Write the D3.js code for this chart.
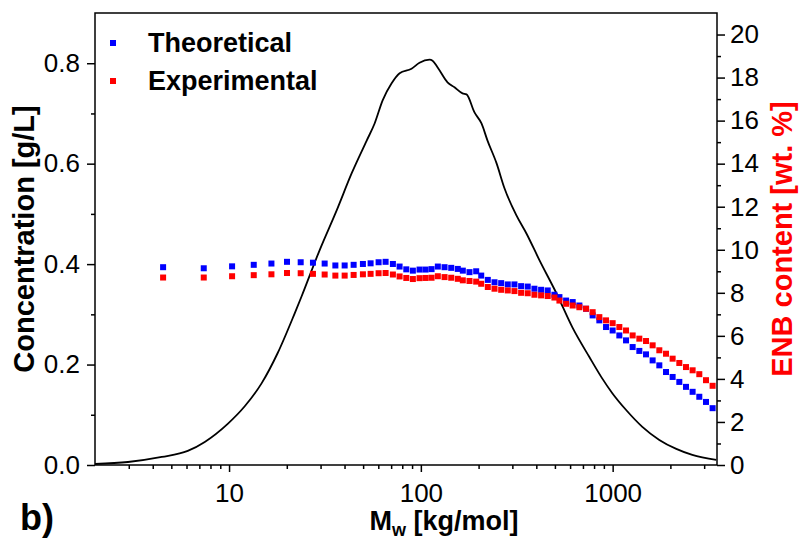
<!DOCTYPE html>
<html>
<head>
<meta charset="utf-8">
<script src="https://cdn.jsdelivr.net/npm/d3@7"></script>
<style>
  body { margin:0; background:#fff; }
  svg { font-family: "Liberation Sans", Arial, sans-serif; }
  .axis path.domain { display:none; }
  .axis line { stroke:#000; stroke-width:1.5; }
  .axis text { font-size:26px; fill:#000; }
</style>
</head>
<body>
<div id="chart"></div>
<script>
// molar mass [kg/mol] of each ENB slice
var sliceMw = [4.53, 7.38, 10.37, 13.45, 16.63, 20.05, 23.63, 27.38, 31.51, 35.83, 40.06, 44.62, 49.88, 54.7, 60.21, 65.49, 71.49, 77.47,
  83.95, 90.86, 98.45, 105.8, 113.7, 122.6, 132.9, 144.0, 155.8, 165.5, 179.3, 194.3, 206.4, 223.4, 242.1, 262.3, 283.9, 307.6, 333.3,
  360.8, 391.0, 423.7, 458.6, 497.0, 527.8, 571.9, 619.0, 670.7, 726.8, 786.6, 852.3, 923.6, 1000, 1083.6, 1174.2, 1271.3, 1377.6,
  1492.8, 1616.1, 1751.3, 1897.7, 2054.5, 2226.3, 2412.4, 2611.7, 2830.1, 3066.7, 3320]
// ENB content [wt. %]
var theoretical = [9.19, 9.14, 9.23, 9.30, 9.36, 9.44, 9.42, 9.40, 9.36, 9.27, 9.27, 9.30, 9.34, 9.37, 9.42, 9.44, 9.34, 9.22,
  9.09, 9.03, 9.08, 9.08, 9.10, 9.22, 9.19, 9.16, 9.11, 9.03, 8.96, 9.00, 8.80, 8.60, 8.49, 8.45, 8.39, 8.39, 8.31,
  8.29, 8.19, 8.14, 8.11, 7.91, 7.80, 7.64, 7.57, 7.41, 7.26, 6.95, 6.72, 6.41, 6.25, 6.02, 5.79, 5.48, 5.30,
  5.14, 4.86, 4.63, 4.32, 4.09, 3.86, 3.63, 3.40, 3.17, 2.93, 2.64]
var experimental = [8.71, 8.71, 8.77, 8.82, 8.86, 8.92, 8.91, 8.88, 8.85, 8.80, 8.80, 8.83, 8.86, 8.88, 8.91, 8.92, 8.85, 8.76,
  8.69, 8.64, 8.68, 8.69, 8.70, 8.77, 8.73, 8.70, 8.65, 8.58, 8.55, 8.52, 8.42, 8.27, 8.19, 8.14, 8.11, 8.08, 8.00,
  7.98, 7.91, 7.88, 7.85, 7.78, 7.64, 7.49, 7.41, 7.33, 7.26, 7.10, 6.87, 6.72, 6.59, 6.41, 6.25, 6.02, 5.87,
  5.76, 5.56, 5.33, 5.17, 4.94, 4.74, 4.55, 4.40, 4.22, 3.94, 3.68]

// molar mass distribution (concentration [g/L])
var distMw = [2.0, 2.97, 4.46, 6.09, 7.47, 9.84, 12.07, 14.8, 17.93, 21.99, 23.9, 29.68, 36.4, 43.6, 52.2, 57.4, 63.2, 70.4, 77.5,
  89.4, 98.4, 111, 115.1, 122.6, 137.7, 149.8, 164.9, 173, 190.4, 207.1, 222.6, 248, 272.9, 315, 355.2, 415.1, 509.1, 616.8,
  756.1, 873.3, 996, 1179, 1428, 1751, 2147, 2602, 3468]
var distConc = [0.002, 0.006, 0.016, 0.028, 0.046, 0.082, 0.117, 0.163, 0.223, 0.302, 0.336, 0.428, 0.507, 0.581, 0.646, 0.680, 0.726, 0.760, 0.780,
  0.789, 0.801, 0.807, 0.805, 0.791, 0.762, 0.752, 0.740, 0.738, 0.702, 0.680, 0.646, 0.601, 0.551, 0.497, 0.461, 0.408, 0.342, 0.274,
  0.215, 0.175, 0.143, 0.109, 0.076, 0.050, 0.032, 0.020, 0.010]

var xMajor = [10, 100, 1000]
var xMinor = [3, 4, 5, 6, 7, 8, 9, 20, 30, 40, 50, 60, 70, 80, 90, 200, 300, 400, 500, 600, 700, 800, 900, 2000, 3000]
var concTicks = [0, 0.2, 0.4, 0.6, 0.8]
var concMinor = [0.1, 0.3, 0.5, 0.7]
var enbTicks = [0, 2, 4, 6, 8, 10, 12, 14, 16, 18, 20]
var enbMinor = [1, 3, 5, 7, 9, 11, 13, 15, 17, 19]

var seriesNames = ["Theoretical", "Experimental"]
var seriesColors = ["#0000ff", "#ff0000"]

var W = 800, H = 542
var margin = {top: 13, right: 83, bottom: 77, left: 95}
var width = W - margin.left - margin.right
var height = H - margin.top - margin.bottom

var svg = d3.select("#chart").append("svg")
    .attr("width", W).attr("height", H)
var g = svg.append("g")
    .attr("transform", "translate(" + margin.left + "," + margin.top + ")")

var x = d3.scaleLog().domain([2, 3500]).range([0, width])
var yL = d3.scaleLinear().domain([0, 0.9]).range([height, 0])
var yR = d3.scaleLinear().domain([0, 21]).range([height, 0])

// axes (major + minor)
g.append("g").attr("class", "axis").attr("transform", "translate(0," + height + ")")
  .call(d3.axisBottom(x).tickValues(xMajor).tickFormat(d3.format("d")).tickSize(7).tickPadding(12))
g.append("g").attr("class", "axis").attr("transform", "translate(0," + height + ")")
  .call(d3.axisBottom(x).tickValues(xMinor).tickFormat("").tickSize(4))

g.append("g").attr("class", "axis")
  .call(d3.axisLeft(yL).tickValues(concTicks).tickFormat(d3.format(".1f")).tickSize(8).tickPadding(7))
g.append("g").attr("class", "axis")
  .call(d3.axisLeft(yL).tickValues(concMinor).tickFormat("").tickSize(4))

g.append("g").attr("class", "axis").attr("transform", "translate(" + width + ",0)")
  .call(d3.axisRight(yR).tickValues(enbTicks).tickFormat(d3.format("d")).tickSize(8).tickPadding(5))
g.append("g").attr("class", "axis").attr("transform", "translate(" + width + ",0)")
  .call(d3.axisRight(yR).tickValues(enbMinor).tickFormat("").tickSize(4))

// frame
g.append("rect")
  .attr("width", width).attr("height", height)
  .attr("fill", "none").attr("stroke", "#000").attr("stroke-width", 1.5)

// distribution curve
var dist = distMw.map((m, i) => ({m: m, c: distConc[i]}))
g.append("path")
  .datum(dist)
  .attr("fill", "none")
  .attr("stroke", "#000")
  .attr("stroke-width", 1.8)
  .attr("d", d3.line().x(d => x(d.m)).y(d => yL(d.c)).curve(d3.curveMonotoneX))

// ENB squares (experimental drawn on top)
var sq = 6
;[theoretical, experimental].forEach((vals, k) => {
  g.append("g").selectAll("rect")
    .data(sliceMw.map((m, i) => ({m: m, v: vals[i]})))
    .enter().append("rect")
    .attr("x", d => x(d.m) - sq / 2)
    .attr("y", d => yR(d.v) - sq / 2)
    .attr("width", sq).attr("height", sq)
    .attr("fill", seriesColors[k])
})

// legend
var leg = g.append("g").attr("transform", "translate(18,30)")
seriesNames.forEach((s, i) => {
  leg.append("rect").attr("x", -3).attr("y", i * 38 - 3).attr("width", 6).attr("height", 6)
    .attr("fill", seriesColors[i])
  leg.append("text").attr("x", 35).attr("y", i * 38 + 9)
    .attr("font-size", 27).attr("font-weight", "bold").text(s)
})

// axis titles
svg.append("text")
  .attr("transform", "translate(34," + (margin.top + yL(0.45)) + ") rotate(-90)")
  .attr("text-anchor", "middle").attr("font-size", 29).attr("font-weight", "bold")
  .text("Concentration [g/L]")

svg.append("text")
  .attr("transform", "translate(792," + (margin.top + yL(0.45)) + ") rotate(-90)")
  .attr("text-anchor", "middle").attr("font-size", 29).attr("font-weight", "bold")
  .attr("fill", "#ff0000")
  .text("ENB content [wt. %]")

var xt = svg.append("text")
  .attr("x", margin.left + width / 2 + 38).attr("y", 530)
  .attr("text-anchor", "middle").attr("font-size", 27).attr("font-weight", "bold")
xt.append("tspan").text("M")
xt.append("tspan").attr("font-size", 18).attr("dy", 6).text("w")
xt.append("tspan").attr("dy", -6).text(" [kg/mol]")

svg.append("text")
  .attr("x", 20).attr("y", 530)
  .attr("font-size", 36).attr("font-weight", "bold")
  .text("b)")
</script>
</body>
</html>
